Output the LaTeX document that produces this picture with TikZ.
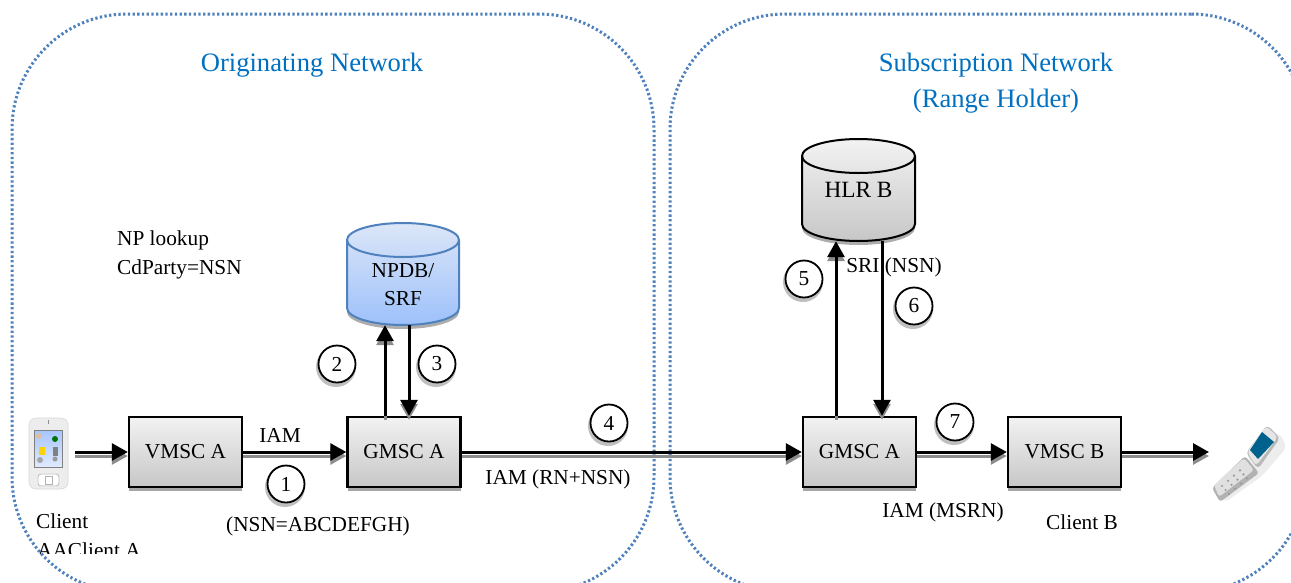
\documentclass[tikz,border=0pt]{standalone}
\usepackage{fontspec}
\setmainfont{Liberation Serif}
\usetikzlibrary{arrows.meta,shadows,calc}
\definecolor{regionblue}{HTML}{4F81BD}
\definecolor{titleblue}{HTML}{0070C0}
\definecolor{dbtop}{HTML}{DCE6F8}
\definecolor{dbbot}{HTML}{9DC1FB}
\tikzset{
  txt/.style={inner sep=0pt,font=\fontsize{21.3}{25}\selectfont,text=black},
  title/.style={inner sep=0pt,font=\fontsize{26.6}{36}\selectfont,text=titleblue,align=center},
  region/.style={draw=regionblue,line width=3pt,dash pattern=on 2.3pt off 2.4pt,rounded corners=115pt,fill=none,inner sep=0pt},
  box/.style={draw=black,line width=2.4pt,top color=white!95!black,bottom color=black!22,minimum width=113pt,minimum height=70pt,inner sep=0pt,
    font=\fontsize{21.3}{25}\selectfont,drop shadow={shadow xshift=0pt,shadow yshift=-4pt,fill=black!35,opacity=1}},
  dblabel/.style={inner sep=0pt,align=center},
  flow/.style={line width=3pt,-{Triangle[length=16pt,width=17pt]}},
  flowshade/.style={line width=3pt,-{Triangle[length=16pt,width=17pt]},draw=black!45,fill=black!45},
  stepmark/.style={circle,draw=black,line width=1.8pt,fill=white,minimum size=37pt,inner sep=0pt,
    font=\fontsize{21.3}{25}\selectfont},
}
\newcommand{\flowline}[2]{%
  \draw[flowshade] ($#1+(0,4)$) -- ($#2+(0,4)$);
  \draw[flow] #1 -- #2;
}
% x centre, half width, y top, y bottom, ry, line colour, top colour, bottom colour
\newcommand{\dbdraw}[8]{%
  \fill[black!32] ($(#1-#2,#3+4+#5)$) -- ($(#1-#2,#4+4-#5)$) arc[start angle=180,end angle=360,x radius=#2pt,y radius=#5pt] -- ($(#1+#2,#3+4+#5)$) -- cycle;
  \path[draw=#6,line width=2pt,top color=#7,bottom color=#8] ($(#1-#2,#3+#5)$) -- ($(#1-#2,#4-#5)$) arc[start angle=180,end angle=360,x radius=#2pt,y radius=#5pt] -- ($(#1+#2,#3+#5)$) arc[start angle=0,end angle=180,x radius=#2pt,y radius=#5pt] -- cycle;
  \draw[draw=#6,line width=2pt] ($(#1+#2,#3+#5)$) arc[start angle=0,end angle=-180,x radius=#2pt,y radius=#5pt];
}
\newcommand{\stepnum}[4]{% name, x, y, digit
  \fill[black!25] (#2-1,#3+3) circle[radius=20pt];
  \node[stepmark] (#1) at (#2,#3) {\raisebox{-1pt}{#4}};
}
\begin{document}
\begin{tikzpicture}[x=1pt,y=-1pt]
\useasboundingbox (0,0) rectangle (1291,582);
\fill[white] (0,0) rectangle (1291,582);
\begin{scope}
  \clip (0,0) rectangle (1291,582);
  \node[region,minimum width=642pt,minimum height=578pt] (orig) at (333,303) {};
  \node[region,minimum width=636pt,minimum height=578pt] (subs) at (988,303) {};
\end{scope}

\node[title] (origtitle) at (312,65) {Originating Network};
\node[title] (substitle) at (996,83) {Subscription Network\\(Range Holder)};

% client A handset
\fill[black!7,draw=black!15,line width=.6pt,rounded corners=7pt] (29,418) rectangle (68,489);
\fill[white,rounded corners=5pt] (37,473) rectangle (60,487);
\draw[black!30,line width=.7pt,rounded corners=3pt] (38,474) rectangle (59,486);
\draw[black!30,line width=.7pt] (45,476) rectangle (52,484);
\draw[black!45,line width=.7pt] (48,420) -- (48,424);
\shade[top color=cyan!35!blue!35,bottom color=cyan!30!blue!12,draw=black!50,line width=.5pt] (34,430) rectangle (62,467);
\fill[green!45!black] (55,439) circle[radius=3pt];
\fill[yellow!70!orange] (39,447) rectangle (45,455);
\fill[black!50] (53,447) rectangle (58,456);
\fill[black!35] (40,460) circle[radius=3pt];
\fill[black!40] (55,459) circle[radius=2.5pt];
\fill[brown!50] (39,436) circle[radius=3pt];
\coordinate (phoneA) at (75,452);

% client B handset
\fill[black!7,rounded corners=6pt] (1224,503) -- (1262,476) -- (1287,447) -- (1279,432) -- (1250,458) -- (1216,490) -- cycle;
\fill[black!30,rounded corners=3pt] (1212,488) -- (1220,502) -- (1259,473) -- (1245,456) -- cycle;
\fill[black!12,rounded corners=3pt] (1214,485) -- (1219,497) -- (1254,470) -- (1244,458) -- cycle;
\foreach \i in {0,1,2,3}
  \foreach \j in {0,1,2}
    \fill[black!40] ({1222+\i*6+\j*3.5},{486-\i*5.2+\j*4}) circle[radius=1.2pt];
\fill[black!28,rounded corners=4pt] (1267,425) -- (1280,438) -- (1258,469) -- (1246,453) -- cycle;
\fill[black!10,rounded corners=4pt] (1266,426) -- (1278,437) -- (1256,466) -- (1247,452) -- cycle;
\fill[blue!30!cyan!55!black] (1262,432) -- (1274,442) -- (1258,459) -- (1250,450) -- cycle;
\coordinate (phoneB) at (1209,452);

\node[box] (vmsca) at (185.5,452) {VMSC A};
\node[box] (gmsca) at (404,452) {GMSC A};
\node[box] (gmscb) at (859.5,452) {GMSC A};
\node[box] (vmscb) at (1064.5,452) {VMSC B};

\dbdraw{403}{56}{223}{325}{17}{regionblue}{dbtop}{dbbot}
\node[dblabel,minimum width=112pt,minimum height=80pt,font=\fontsize{21.3}{28}\selectfont] (npdb) at (403,285) {NPDB/\\SRF};
\dbdraw{858.5}{56.5}{139}{241}{17}{black}{white!95!black}{black!22}
\node[dblabel,minimum width=113pt,minimum height=102pt,font=\fontsize{23.3}{28}\selectfont] (hlr) at (858.5,190) {HLR B};

\flowline{(phoneA)}{(vmsca.west)}
\flowline{(vmsca.east)}{(gmsca.west)}
\flowline{(gmsca.east)}{(gmscb.west)}
\flowline{(gmscb.east)}{(vmscb.west)}
\flowline{(vmscb.east)}{(phoneB)}
\flowline{([xshift=-19pt]gmsca.north)}{([xshift=-18pt]npdb.south)}
\flowline{([xshift=6pt]npdb.south)}{([xshift=5pt]gmsca.north)}
\flowline{([xshift=-23.5pt]gmscb.north)}{([xshift=-22.5pt]hlr.south)}
\flowline{([xshift=23.5pt]hlr.south)}{([xshift=22.5pt]gmscb.north)}

\stepnum{s1}{286}{484}{1}
\stepnum{s2}{337}{364}{2}
\stepnum{s3}{437}{364}{3}
\stepnum{s4}{609}{423}{4}
\stepnum{s5}{804}{279}{5}
\stepnum{s6}{914}{306}{6}
\stepnum{s7}{955}{422}{7}

\node[txt] (iam) at (280,435) {IAM};
\node[txt] (nsn) at (318,526) {(NSN=ABCDEFGH)};
\node[txt] (rnnsn) at (558,479) {IAM (RN+NSN)};
\node[txt] (msrn) at (943,512) {IAM (MSRN)};
\node[txt] (clientb) at (1082,522) {Client B};
\node[txt] (sri) at (894,267) {SRI (NSN)};
\node[txt,anchor=west] (np1) at (117,240) {NP lookup};
\node[txt,anchor=west] (np2) at (117,269) {CdParty=NSN};
\node[txt,anchor=west] (clienta) at (36,521) {Client};
\begin{scope}
  \clip (30,532) rectangle (150,553.5);
  \node[txt,anchor=west] (clientaa) at (37,550) {AAClient A};
\end{scope}
\end{tikzpicture}
\end{document}
